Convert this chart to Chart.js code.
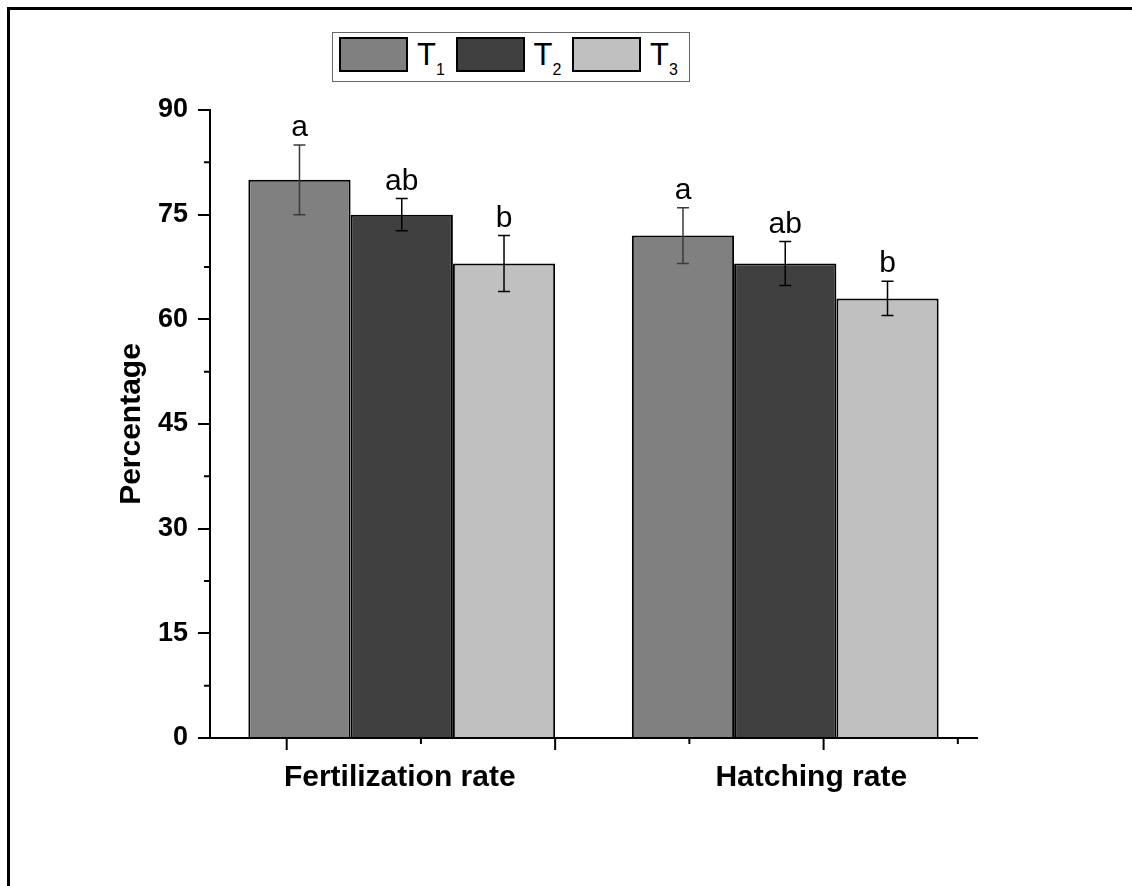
<!DOCTYPE html>
<html>
<head>
<meta charset="utf-8">
<script src="https://cdn.jsdelivr.net/npm/chart.js@4.4.1/dist/chart.umd.min.js"></script>
<style>
  html, body { margin: 0; padding: 0; background: #fff; }
  #wrap { position: relative; width: 1132px; height: 886px; overflow: hidden; font-family: 'Liberation Sans', Arial, sans-serif; }
  #frame { position: absolute; left: 7px; top: 7px; right: 0; bottom: 0; border-top: 3px solid #000; border-left: 3px solid #000; }
  #chart { position: absolute; left: 0; top: 0; }
  #legend { position: absolute; left: 332px; top: 32px; width: 356px; height: 48px; border: 1px solid #666; background: #fff; }
  #legend .sw { position: absolute; top: 4px; width: 69px; height: 35px; box-sizing: border-box; border: 2px solid #000; }
  #legend .t { position: absolute; font-size: 31px; line-height: 1; color: #000; }
  #legend .s { position: absolute; font-size: 16px; line-height: 1; color: #000; }
</style>
</head>
<body>
<div id="wrap">
  <div id="frame"></div>
  <canvas id="chart" width="1132" height="886"></canvas>
  <div id="legend"></div>
</div>
<script>
// dados
const categories = ['Fertilization rate', 'Hatching rate'];
const seriesNames = ['T1', 'T2', 'T3'];
const seriesColors = ['#808080', '#404040', '#c0c0c0'];
const errColors = ['#3a3a3a', '#000000', '#000000'];
const t1Values = [80, 72];
const t2Values = [75, 68];
const t3Values = [68, 63];
const t1Err = [5, 4];
const t2Err = [2.3, 3.15];
const t3Err = [4, 2.45];
const t1Letters = ['a', 'a'];
const t2Letters = ['ab', 'ab'];
const t3Letters = ['b', 'b'];
const yTickValues = [0, 15, 30, 45, 60, 75, 90];
// ticks do eixo x (em unidades de índice da categoria), maior/menor alternado
const xTickValues = [-0.3, 0.05, 0.4, 0.75, 1.1, 1.45];

const allValues = [t1Values, t2Values, t3Values];
const allErr = [t1Err, t2Err, t3Err];
const allLetters = [t1Letters, t2Letters, t3Letters];
const FONT = "'Liberation Sans', Arial, sans-serif";

// legenda em HTML (subscritos)
const legend = document.getElementById('legend');
seriesNames.forEach((name, i) => {
  const left = 6 + i * 116.5;
  const sw = document.createElement('div');
  sw.className = 'sw';
  sw.style.left = left + 'px';
  sw.style.background = seriesColors[i];
  legend.appendChild(sw);
  const t = document.createElement('span');
  t.className = 't';
  t.textContent = name.charAt(0);
  t.style.left = (left + 78) + 'px';
  t.style.top = '6px';
  legend.appendChild(t);
  const s = document.createElement('span');
  s.className = 's';
  s.textContent = name.slice(1);
  s.style.left = (left + 97) + 'px';
  s.style.top = '29px';
  legend.appendChild(s);
});

// deslocamento dos rótulos do eixo x, como no original
const shiftLabels = {
  id: 'shiftLabels',
  beforeDraw(chart) {
    const items = chart.scales.x.getLabelItems(chart.chartArea);
    const shifts = [-2, 26];
    items.forEach((it, i) => {
      if (!it._shifted) {
        it.options.translation[0] += shifts[i] || 0;
        it._shifted = true;
      }
    });
  }
};

// barras de erro, letras e ticks extras
const extras = {
  id: 'extras',
  afterDatasetsDraw(chart) {
    const ctx = chart.ctx;
    const y = chart.scales.y;
    const x = chart.scales.x;
    const area = chart.chartArea;
    ctx.save();
    chart.data.datasets.forEach((ds, di) => {
      const meta = chart.getDatasetMeta(di);
      meta.data.forEach((bar, i) => {
        const v = ds.data[i], e = allErr[di][i];
        const top = y.getPixelForValue(v + e);
        const bot = y.getPixelForValue(v - e);
        ctx.strokeStyle = errColors[di];
        ctx.lineWidth = 1.5;
        ctx.beginPath();
        ctx.moveTo(bar.x, top); ctx.lineTo(bar.x, bot);
        ctx.moveTo(bar.x - 6, top); ctx.lineTo(bar.x + 6, top);
        ctx.moveTo(bar.x - 6, bot); ctx.lineTo(bar.x + 6, bot);
        ctx.stroke();
        ctx.fillStyle = '#000';
        ctx.font = '30px ' + FONT;
        ctx.textAlign = 'center';
        ctx.textBaseline = 'alphabetic';
        ctx.fillText(allLetters[di][i], bar.x, top - 9);
      });
    });
    // ticks menores do eixo y
    ctx.strokeStyle = '#000';
    ctx.lineWidth = 2;
    ctx.beginPath();
    for (let k = 0; k < yTickValues.length - 1; k++) {
      const py = y.getPixelForValue((yTickValues[k] + yTickValues[k + 1]) / 2);
      ctx.moveTo(area.left - 6, py); ctx.lineTo(area.left, py);
    }
    // ticks do eixo x
    xTickValues.forEach((v, k) => {
      const px = x.getPixelForValue(v);
      const len = k % 2 === 0 ? 12 : 6;
      ctx.moveTo(px, area.bottom); ctx.lineTo(px, area.bottom + len);
    });
    ctx.stroke();
    ctx.restore();
  }
};

new Chart(document.getElementById('chart'), {
  type: 'bar',
  data: {
    labels: categories,
    datasets: seriesNames.map((name, i) => ({
      label: name,
      data: allValues[i],
      backgroundColor: seriesColors[i],
      borderColor: '#000',
      borderWidth: 2,
      categoryPercentage: 0.8,
      barPercentage: 1.0
    }))
  },
  options: {
    responsive: false,
    animation: false,
    layout: { padding: { left: 100, right: 155, top: 110, bottom: 88 } },
    plugins: {
      legend: { display: false },
      tooltip: { enabled: false }
    },
    scales: {
      x: {
        type: 'category',
        grid: { display: false },
        border: { display: true, color: '#000', width: 2 },
        ticks: { color: '#000', padding: 14, font: { family: FONT, size: 30, weight: 'bold' } },
        afterFit: s => { s.height = 60; }
      },
      y: {
        min: 0,
        max: 90,
        afterBuildTicks: s => { s.ticks = yTickValues.map(v => ({ value: v })); },
        grid: { drawOnChartArea: false, color: '#000', lineWidth: 2, tickLength: 12 },
        border: { display: true, color: '#000', width: 2 },
        ticks: { color: '#000', padding: 10, font: { family: FONT, size: 27, weight: 'bold' } },
        title: {
          display: true,
          text: 'Percentage',
          color: '#000',
          padding: { top: 14, bottom: 0 },
          font: { family: FONT, size: 30, weight: 'bold' }
        },
        afterFit: s => { s.width = 110; }
      }
    }
  },
  plugins: [shiftLabels, extras]
});
</script>
</body>
</html>
